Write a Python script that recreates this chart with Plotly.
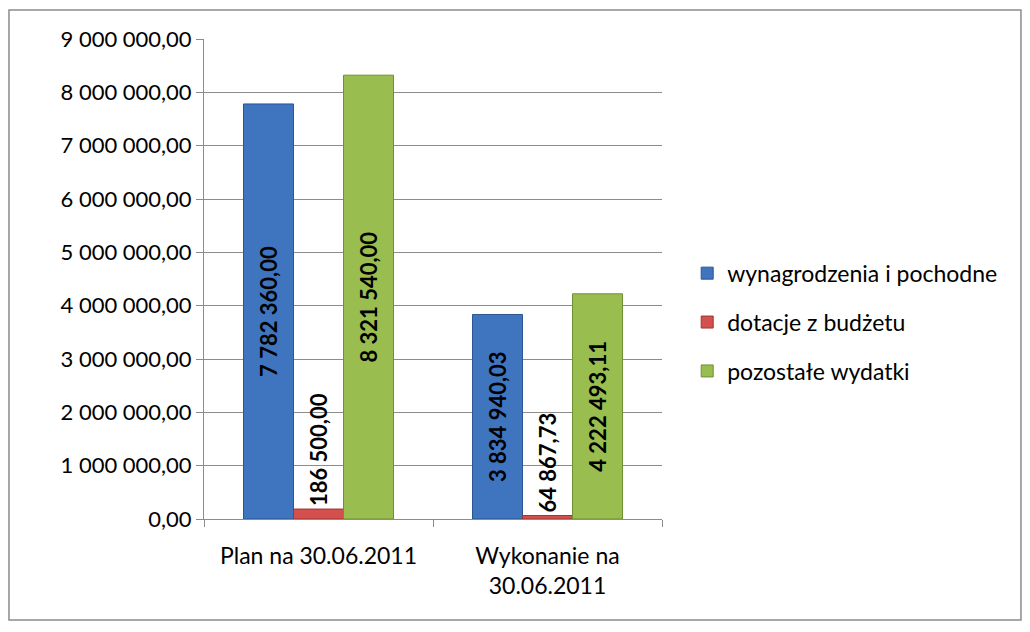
import plotly.graph_objects as go

categories = ["Plan na 30.06.2011", "Wykonanie na<br>30.06.2011"]
wynagrodzenia = [7782360.00, 3834940.03]
dotacje = [186500.00, 64867.73]
pozostale = [8321540.00, 4222493.11]

font_name = "Lato"

series = [
    ("wynagrodzenia i pochodne", wynagrodzenia, "#3f74bf", "#2b5691", "inside"),
    ("dotacje z budżetu", dotacje, "#d4504c", "#9c3532", "outside"),
    ("pozostałe wydatki", pozostale, "#9abd4f", "#6f8f33", "inside"),
]

fig = go.Figure()
for name, vals, color, edge, pos in series:
    fig.add_trace(
        go.Bar(
            x=categories,
            y=vals,
            name=name,
            legendgroup=name,
            marker=dict(color=color, line=dict(color=edge, width=1)),
            texttemplate="%{y:,.2f}",
            textposition=pos,
            insidetextanchor="middle",
            textangle=-90,
            textfont=dict(family=font_name, size=22, color="black", weight="bold"),
            cliponaxis=False,
        )
    )

fig.update_layout(
    barmode="group",
    bargap=0.345,
    bargroupgap=0,
    separators=", ",
    width=1030,
    height=632,
    margin=dict(l=196, r=376, t=31, b=121),
    paper_bgcolor="white",
    plot_bgcolor="white",
    font=dict(family=font_name, size=22, color="black"),
    showlegend=True,
    legend=dict(
        x=1.055,
        y=0.41,
        xanchor="left",
        yanchor="middle",
        font=dict(family=font_name, size=23),
        tracegroupgap=16,
        itemwidth=30,
    ),
    uniformtext=dict(mode="show", minsize=22),
)

fig.update_yaxes(
    range=[0, 9000000],
    dtick=1000000,
    tickformat=",.2f",
    showgrid=True,
    gridcolor="#8c8c8c",
    gridwidth=1,
    showline=True,
    linecolor="#8c8c8c",
    linewidth=1,
    ticks="outside",
    ticklen=7,
    tickcolor="#8c8c8c",
    zeroline=False,
    tickfont=dict(family=font_name, size=22),
)

fig.update_xaxes(
    showline=True,
    linecolor="#8c8c8c",
    linewidth=1,
    ticks="outside",
    tickson="boundaries",
    ticklen=7,
    tickcolor="#8c8c8c",
    tickfont=dict(family=font_name, size=23),
    ticklabelstandoff=16,
)

fig.add_shape(
    type="rect",
    xref="paper",
    yref="paper",
    x0=-0.4258,
    x1=1.7838,
    y0=-0.2104,
    y1=1.0604,
    line=dict(color="#8c8c8c", width=1.5),
    layer="below",
)

fig.write_html("out.html")
